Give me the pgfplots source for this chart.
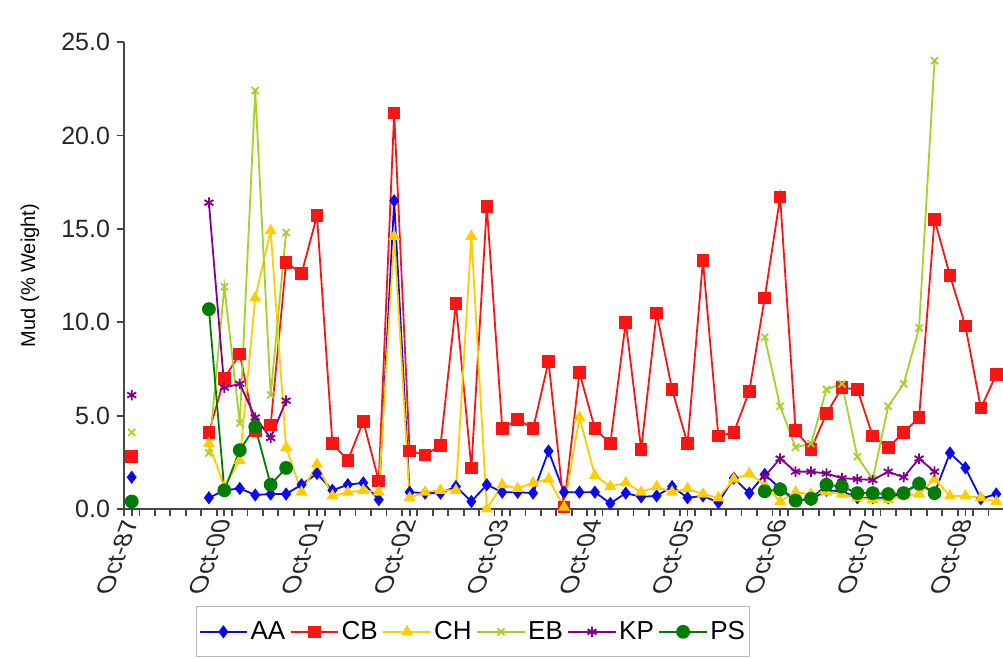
\documentclass[border=0pt]{standalone}
\usepackage{fontspec}
\setmainfont{Liberation Sans}
\usepackage{pgfplots}
\usepackage{pgfplotstable}
\pgfplotsset{compat=1.18}

\definecolor{cAA}{RGB}{10,10,235}
\definecolor{cCB}{RGB}{250,20,20}
\definecolor{cCH}{RGB}{255,205,0}
\definecolor{cEB}{RGB}{165,210,40}
\definecolor{cKP}{RGB}{130,0,140}
\definecolor{cPS}{RGB}{0,125,0}
\definecolor{axgray}{RGB}{70,70,70}

\pgfplotstableread{
m   AA    CB    CH    EB    KP    PS
0   1.7   2.8   nan   4.1   6.1   0.4
5   nan   nan   nan   nan   nan   nan
10  0.6   4.1   3.5   3.0   16.4  10.7
12  1.0   7.0   1.2   11.9  6.5   1.0
14  1.1   8.3   2.6   4.6   6.7   3.15
16  0.75  4.2   11.3  22.4  4.9   4.4
18  0.8   4.5   14.9  6.1   3.8   1.3
20  0.8   13.2  3.3   14.8  5.8   2.2
22  1.3   12.6  0.9   nan   nan   nan
24  1.9   15.7  2.4   nan   nan   nan
26  1.0   3.5   0.7   nan   nan   nan
28  1.3   2.6   0.9   nan   nan   nan
30  1.4   4.7   1.0   nan   nan   nan
32  0.5   1.5   0.9   nan   nan   nan
34  16.5  21.2  14.6  nan   nan   nan
36  0.9   3.1   0.6   nan   nan   nan
38  0.85  2.9   0.9   nan   nan   nan
40  0.85  3.4   1.0   nan   nan   nan
42  1.2   11.0  1.0   nan   nan   nan
44  0.4   2.2   14.6  nan   nan   nan
46  1.3   16.2  0.0   nan   nan   nan
48  0.9   4.3   1.3   nan   nan   nan
50  0.9   4.8   1.1   nan   nan   nan
52  0.85  4.3   1.4   nan   nan   nan
54  3.1   7.9   1.6   nan   nan   nan
56  0.9   0.1   0.1   nan   nan   nan
58  0.9   7.3   4.9   nan   nan   nan
60  0.9   4.3   1.8   nan   nan   nan
62  0.3   3.5   1.2   nan   nan   nan
64  0.85  10.0  1.4   nan   nan   nan
66  0.65  3.2   0.9   nan   nan   nan
68  0.7   10.5  1.2   nan   nan   nan
70  1.2   6.4   0.9   nan   nan   nan
72  0.6   3.5   1.1   nan   nan   nan
74  0.7   13.3  0.8   nan   nan   nan
76  0.35  3.9   0.6   nan   nan   nan
78  1.65  4.1   1.6   nan   nan   nan
80  0.85  6.3   1.9   nan   nan   nan
82  1.85  11.3  1.3   9.2   1.75  0.95
84  1.1   16.7  0.4   5.5   2.7   1.05
86  0.5   4.2   0.9   3.3   2.0   0.45
88  0.5   3.2   0.8   3.5   2.0   0.55
90  1.0   5.1   0.9   6.4   1.9   1.3
92  0.95  6.5   0.8   6.7   1.65  1.2
94  0.6   6.4   0.6   2.8   1.6   0.85
96  0.6   3.9   0.5   1.6   1.55  0.85
98  0.6   3.3   0.5   5.5   2.0   0.8
100 0.85  4.1   0.7   6.7   1.7   0.85
102 1.4   4.9   0.8   9.7   2.7   1.35
104 0.85  15.5  1.6   24.0  2.0   0.85
106 3.0   12.5  0.7   nan   nan   nan
108 2.2   9.8   0.7   nan   nan   nan
110 0.55  5.4   0.6   nan   nan   nan
112 0.8   7.2   0.4   nan   nan   nan
}\datatable

\begin{document}
\begin{tikzpicture}
\path[use as bounding box] (-62pt,-75pt) rectangle (439.5pt,254.5pt);
\begin{axis}[
  at={(0pt,0pt)}, anchor=south west,
  scale only axis, width=440pt, height=233.5pt,
  xmin=-1, xmax=113, ymin=0, ymax=25,
  axis x line=bottom, axis y line=left,
  axis line style={-, draw=axgray, line width=1pt},
  clip=false,
  unbounded coords=jump,
  tick align=outside,
  major tick length=3.5pt,
  xtick={-1,1,...,113},
  xticklabels={},
  x tick style={draw=axgray, line width=0.9pt},
  extra x ticks={0,12,24,36,48,60,72,84,96,108},
  extra x tick labels={Oct-87,Oct-00,Oct-01,Oct-02,Oct-03,Oct-04,Oct-05,Oct-06,Oct-07,Oct-08},
  extra x tick style={tick style={draw=none}},
  y tick style={draw=axgray, line width=0.9pt},
  ytick={0,5,...,25},
  yticklabel style={/pgf/number format/.cd, fixed, fixed zerofill, precision=1},
  /pgf/number format/assume math mode=true,
  ticklabel style={font=\fontsize{12.5}{15}\selectfont, text=black!85},
  xticklabel style={xslant=0.36, rotate=90, anchor=east, inner sep=1.5pt},
  ylabel={Mud (\% Weight)},
  ylabel style={font=\fontsize{13}{15}\selectfont, text=black!85},
  every axis y label/.style={at={(axis description cs:-0.107,0.5)}, rotate=90, anchor=center},
  legend columns=6,
  legend style={at={(0.3966,-0.263)}, anchor=center, draw=gray!55, line width=0.6pt,
    font=\fontsize{13}{15}\selectfont, inner xsep=1pt, inner ysep=6pt,
    nodes={inner sep=1.2pt},
    /tikz/every even column/.append style={column sep=1pt}},
  legend image code/.code={\draw[mark repeat=2, mark phase=2] plot coordinates {(0cm,0cm) (0.42cm,0cm) (0.84cm,0cm)};},
  every axis plot/.append style={line width=0.9pt},
]
\addplot[cAA, mark=diamond*, mark size=2.6pt, mark options={solid, fill=cAA}] table[x=m, y=AA] {\datatable};
\addlegendentry{AA}
\addplot[cCB, mark=square*, mark size=2.7pt, mark options={solid, fill=cCB}] table[x=m, y=CB] {\datatable};
\addlegendentry{CB}
\addplot[cCH, mark=triangle*, mark size=2.6pt, mark options={solid, fill=cCH}] table[x=m, y=CH] {\datatable};
\addlegendentry{CH}
\addplot[cEB, mark=x, mark size=2.5pt, mark options={solid}] table[x=m, y=EB] {\datatable};
\addlegendentry{EB}
\addplot[cKP, mark=asterisk, mark size=2.6pt, mark options={solid}] table[x=m, y=KP] {\datatable};
\addlegendentry{KP}
\addplot[cPS, mark=*, mark size=3pt, mark options={solid, fill=cPS}] table[x=m, y=PS] {\datatable};
\addlegendentry{PS}
\end{axis}
\end{tikzpicture}
\end{document}
